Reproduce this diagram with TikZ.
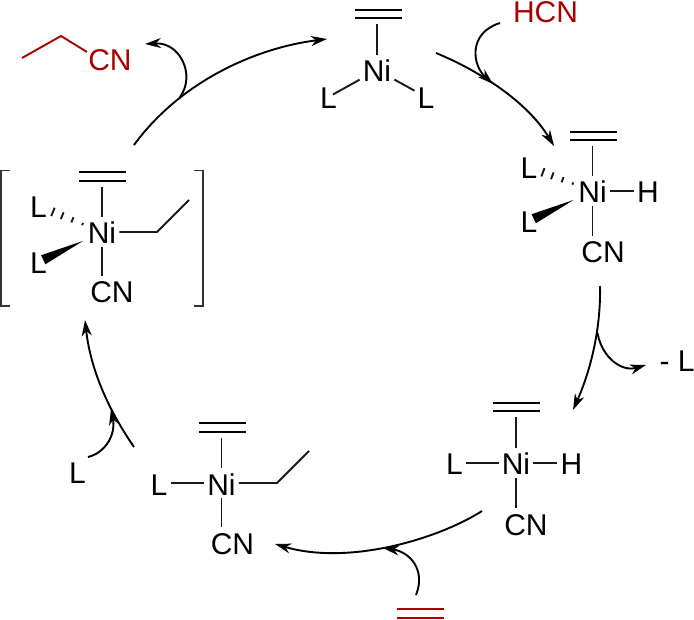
\documentclass[tikz,border=0pt]{standalone}
\usepackage{fontspec}
\setmainfont{Liberation Sans}
\usepackage{tikz}
\usetikzlibrary{arrows.meta, calc}
\definecolor{darkred}{HTML}{AA0000}

\tikzset{
    atom/.style={font=\fontsize{30}{30}\selectfont, text height=24pt, text depth=0pt, inner xsep=3pt, inner ysep=3pt},
    redatom/.style={atom, text=darkred},
    enenode/.style={minimum width=47pt, minimum height=20pt, inner sep=0pt},
    bond/.style={line width=1.9pt, black!90},
    ene/.style={line width=1.9pt, double=white, double distance=6.8pt},
    bracket/.style={line width=1.5pt, black!80},
    arrow/.style={line width=1.9pt, -{Stealth[length=16pt, width=10pt, inset=5pt]}},
}

\newcommand{\hashbond}[2]{
    \foreach \d/\w in {21/1.2, 32/2.8, 43/3.6, 53/4.5} {
        \draw[bond] ($(#1)!\d pt!(#2)!\w pt!90:(#2)$) -- ($(#1)!\d pt!(#2)!\w pt!-90:(#2)$);
    }
}
\newcommand{\wedgebond}[2]{
    \fill ($(#1)!21pt!(#2)$) -- ($(#1)!65pt!(#2)!5pt!90:(#2)$) -- ($(#1)!65pt!(#2)!5pt!-90:(#2)$) -- cycle;
}

\begin{document}
\begin{tikzpicture}[x=1pt, y=-1pt]
    \useasboundingbox (0,0) rectangle (694,620);

    % top complex
    \node[enenode] (ene1) at (378.5,14) {};
    \node[atom] (ni1) at (377,70) {Ni};
    \node[atom] (l1a) at (328.5,97) {L};
    \node[atom] (l1b) at (426,97) {L};
    \draw[ene] (ene1.west) -- (ene1.east);
    \draw[bond] (ni1.north) -- (ni1 |- ene1.south);
    \draw[bond, shorten >=-8pt] (ni1) -- (l1a);
    \draw[bond] (ni1) -- (l1b);

    % hydride complex
    \node[enenode] (ene2) at (593.5,136) {};
    \node[atom] (ni2) at (592.5,191) {Ni};
    \node[atom] (h2) at (648,191) {H};
    \node[atom] (l2a) at (529,167) {L};
    \node[atom] (l2b) at (529,221) {L};
    \node[atom] (cn2) at (603,251) {CN};
    \draw[ene] (ene2.west) -- (ene2.east);
    \draw[bond] (ni2.north) -- (ni2 |- ene2.south);
    \draw[bond] (ni2) -- (h2);
    \draw[bond] (ni2.south) -- (ni2 |- cn2.north);
    \hashbond{ni2}{l2a}
    \wedgebond{ni2}{l2b}

    % hydride complex without the second L
    \node[enenode] (ene3) at (516.5,407) {};
    \node[atom] (ni3) at (516,463) {Ni};
    \node[atom] (l3) at (454.5,463) {L};
    \node[atom] (h3) at (571.5,463) {H};
    \node[atom] (cn3) at (526,523) {CN};
    \draw[ene] (ene3.west) -- (ene3.east);
    \draw[bond] (ni3.north) -- (ni3 |- ene3.south);
    \draw[bond] (ni3) -- (l3);
    \draw[bond] (ni3) -- (h3);
    \draw[bond] (ni3.south) -- (ni3 |- cn3.north);

    % ethyl complex
    \node[enenode] (ene4) at (222.5,427.5) {};
    \node[atom] (ni4) at (221.5,483) {Ni};
    \node[atom] (l4) at (159,483) {L};
    \node[atom] (cn4) at (232.5,542) {CN};
    \coordinate (et4a) at (277,483);
    \coordinate (et4b) at (309,451);
    \draw[ene] (ene4.west) -- (ene4.east);
    \draw[bond] (ni4.north) -- (ni4 |- ene4.south);
    \draw[bond] (ni4) -- (l4);
    \draw[bond] (ni4.south) -- (ni4 |- cn4.north);
    \draw[bond] (ni4.east) -- (et4a) -- (et4b);

    % complex in brackets
    \node[enenode] (ene5) at (102.5,176.5) {};
    \node[atom] (ni5) at (102,232) {Ni};
    \node[atom] (l5a) at (38.5,206) {L};
    \node[atom] (l5b) at (38.5,262) {L};
    \node[atom] (cn5) at (112,291) {CN};
    \coordinate (et5a) at (157,232);
    \coordinate (et5b) at (189,200);
    \draw[ene] (ene5.west) -- (ene5.east);
    \draw[bond] (ni5.north) -- (ni5 |- ene5.south);
    \draw[bond] (ni5.south) -- (ni5 |- cn5.north);
    \draw[bond] (ni5.east) -- (et5a) -- (et5b);
    \hashbond{ni5}{l5a}
    \wedgebond{ni5}{l5b}
    \draw[bracket] (10,170.5) -- (1,170.5) -- (1,306) -- (10,306);
    \draw[bracket] (194,170.5) -- (203,170.5) -- (203,306) -- (194,306);

    % species entering and leaving
    \node[redatom, text height=21.5pt, inner ysep=0pt] (hcn) at (545.5,11.5) {HCN};
    \node[redatom] (prop) at (110,59) {CN};
    \coordinate (propa) at (22,58);
    \coordinate (propb) at (61,36);
    \coordinate (propc) at (87,52);
    \draw[bond, darkred] (propa) -- (propb) -- (propc);
    \node[atom] (lout) at (677,360) {- L};
    \node[atom] (lin) at (77.5,471) {L};
    \node[enenode] (ene6) at (420.5,613.5) {};
    \draw[ene, darkred] (ene6.west) -- (ene6.east);

    % cycle arrows
    \coordinate (a1s) at (134,145);
    \coordinate (a1e) at (327,39);
    \coordinate (a1m) at (180,97);
    \coordinate (a2s) at (436,53);
    \coordinate (a2e) at (554,146);
    \coordinate (a2m) at (493,84);
    \coordinate (a3s) at (600,286);
    \coordinate (a3e) at (573,410);
    \coordinate (a3m) at (597.5,333);
    \coordinate (a4s) at (482,511);
    \coordinate (a4e) at (275,544);
    \coordinate (a4m) at (383,548);
    \coordinate (a5s) at (134,447);
    \coordinate (a5e) at (85,320);
    \coordinate (a5m) at (111,409);

    \draw[arrow] (a1s) .. controls (180,82) and (255,48) .. (a1e);
    \draw[arrow] (a2s) .. controls (482,72) and (528,103) .. (a2e);
    \draw[arrow] (a3s) .. controls (601,330) and (590,372) .. (a3e);
    \draw[arrow] (a4s) .. controls (440,538) and (350,566) .. (a4e);
    \draw[arrow] (a5s) .. controls (105,405) and (90,365) .. (a5e);

    % side arrows
    \coordinate (b1e) at (145,44);
    \coordinate (b2s) at (500,23);
    \coordinate (b3e) at (646,365);
    \coordinate (b4s) at (416,595);
    \coordinate (b5s) at (88,457);
    \draw[arrow] (a1m) .. controls (196,75) and (180,42) .. (b1e);
    \draw[arrow] (b2s) .. controls (468,33) and (472,65) .. (a2m);
    \draw[arrow] (a3m) .. controls (602,358) and (622,372) .. (b3e);
    \draw[arrow] (b4s) .. controls (426,570) and (410,552) .. (a4m);
    \draw[arrow] (b5s) .. controls (105,453) and (116,435) .. (a5m);
\end{tikzpicture}
\end{document}
